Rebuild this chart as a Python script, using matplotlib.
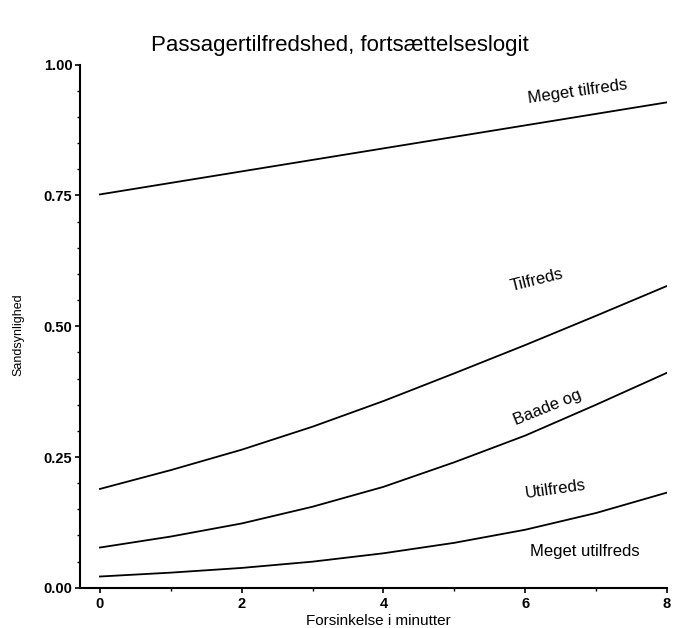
import numpy as np
import matplotlib.pyplot as plt
from matplotlib.ticker import MultipleLocator

# Data (cumulative probabilities per delay minute)
minutter = [0, 1, 2, 3, 4, 5, 6, 7, 8]
meget_tilfreds = [0.752, 0.774, 0.796, 0.818, 0.840, 0.862, 0.884, 0.906, 0.928]
tilfreds = [0.189, 0.225, 0.264, 0.308, 0.357, 0.410, 0.464, 0.520, 0.577]
baade_og = [0.077, 0.098, 0.123, 0.155, 0.193, 0.240, 0.291, 0.350, 0.411]
utilfreds = [0.0216, 0.029, 0.038, 0.050, 0.066, 0.086, 0.111, 0.143, 0.182]

curve_labels = ['Meget tilfreds', 'Tilfreds', 'Baade og', 'Utilfreds', 'Meget utilfreds']

plt.rcParams['font.family'] = ['Liberation Sans', 'DejaVu Sans']

fig = plt.figure(figsize=(6.73, 6.28), dpi=100)
ax = fig.add_axes([0.119, 0.064, 0.872, 0.833])

for serie in [meget_tilfreds, tilfreds, baade_og, utilfreds]:
    ax.plot(minutter, serie, color='k', lw=1.3)

# Curve labels
pos = [(6.74, 0.948, 8), (6.16, 0.589, 14), (6.32, 0.345, 22),
       (6.43, 0.189, 8), (6.84, 0.069, 0)]
for lab, (x, y, rot) in zip(curve_labels, pos):
    ax.text(x, y, lab, rotation=rot, ha='center', va='center',
            fontsize=12, rotation_mode='anchor')

ax.set_xlim(-0.28, 8)
ax.set_ylim(0, 1)
ax.set_xticks([0, 2, 4, 6, 8])
ax.set_yticks([0, 0.25, 0.5, 0.75, 1.0])
ax.set_yticklabels(['0.00', '0.25', '0.50', '0.75', '1.00'])
ax.xaxis.set_minor_locator(MultipleLocator(1))
ax.yaxis.set_minor_locator(MultipleLocator(0.05))

for pos_ in ['right', 'top']:
    ax.spines[pos_].set_visible(False)
for pos_ in ['left', 'bottom']:
    ax.spines[pos_].set_linewidth(1.5)

ax.tick_params(which='major', length=3.5, width=1.2, labelsize=10.5, pad=2)
ax.tick_params(axis='x', which='major', pad=3)
ax.tick_params(which='minor', length=2, width=1)
for t in ax.get_xticklabels() + ax.get_yticklabels():
    t.set_fontweight('bold')

fig.text(0.562, 0.011, 'Forsinkelse i minutter', ha='center', va='center',
         fontsize=11)
fig.text(0.027, 0.467, 'Sandsynlighed', ha='center', va='center',
         rotation=90, fontsize=9)

fig.text(0.505, 0.928, 'Passagertilfredshed, fortsættelseslogit',
         ha='center', va='center', fontsize=16)

fig.savefig('out.png', dpi=100)
